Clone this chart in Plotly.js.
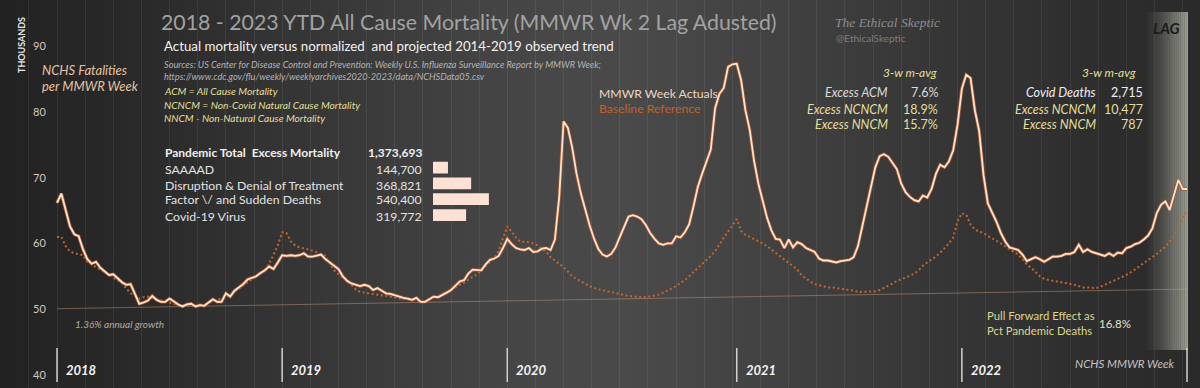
<!DOCTYPE html>
<html><head><meta charset="utf-8">
<script src="https://cdn.plot.ly/plotly-3.0.1.min.js"></script>
<style>
html,body{margin:0;padding:0;background:#2a2a2a;overflow:hidden;}
#chart{width:1200px;height:388px;background:linear-gradient(to right,#222222 0%,#2a2a2a 12%,#383838 28%,#454545 42%,#4a4a4a 52%,#424242 64%,#363636 78%,#2d2d2d 92%,#2a2a2a 100%);}
</style></head><body><div id="chart"></div><script>
// ---------- DATA (thousands of deaths per MMWR week, 2018 wk1 .. 2023 wk1) ----------
const actual = [
66.1,67.5,65.0,62.5,61.3,61.0,59.0,57.5,56.8,57.1,
56.2,55.6,55.1,55.2,54.6,54.0,53.6,53.7,52.2,50.7,
50.9,51.2,51.9,51.3,51.0,51.0,51.5,51.0,50.6,50.3,
50.6,50.7,50.3,50.5,50.4,50.9,51.4,51.0,51.0,52.3,
51.8,52.7,53.2,53.7,54.4,54.7,54.9,55.4,55.8,56.4,
56.0,57.0,58.1,58.0,58.1,58.0,58.1,58.4,57.9,57.9,
58.1,58.2,57.5,57.0,56.4,56.0,54.9,54.2,53.8,53.6,
53.4,53.6,53.4,52.8,53.1,52.7,52.3,52.2,52.0,51.7,
51.6,51.5,51.3,51.6,51.0,51.0,51.4,51.8,51.7,52.0,
52.4,52.8,53.4,54.1,54.3,55.3,55.9,55.8,55.8,56.7,
57.4,57.6,58.0,59.2,60.6,59.8,59.2,59.0,58.9,59.2,
58.6,58.7,59.1,59.2,58.9,60.5,67.0,78.5,77.5,74.5,
70.5,67.5,65.0,62.7,60.7,59.1,58.2,57.9,58.3,59.3,
60.9,62.6,64.0,64.2,64.0,63.6,62.7,61.5,60.6,59.9,
59.7,59.9,59.9,61.0,60.8,61.6,62.8,65.5,68.5,70.5,
72.3,74.2,80.5,82.7,83.6,86.8,87.2,87.3,84.8,80.2,
77.2,72.5,69.0,66.3,63.8,61.9,60.6,60.5,59.2,60.5,
59.3,60.1,59.8,59.2,58.9,58.6,57.6,57.3,57.3,57.1,
57.0,57.2,57.3,57.4,57.8,59.5,62.5,65.5,68.7,71.5,
73.2,73.5,73.1,72.2,71.2,69.0,67.7,67.0,66.5,66.3,
67.2,66.9,68.2,70.5,71.9,71.5,72.4,74.1,78.0,83.5,
85.6,85.1,80.2,77.0,70.3,66.0,64.7,63.2,61.5,60.2,
59.3,59.1,58.9,58.2,57.2,57.5,57.8,57.5,57.1,57.5,
57.9,57.9,58.0,58.3,58.3,58.6,59.7,58.6,59.0,58.6,
58.4,58.2,58.0,58.4,58.0,58.5,58.4,59.2,59.4,59.8,
60.0,60.5,61.1,62.2,64.5,65.8,66.3,65.0,67.5,69.6,
68.2,68.2
];
const baseline = [
60.9,60.9,59.5,58.7,58.4,58.3,58.1,57.1,56.7,56.3,
55.9,55.6,55.1,54.8,54.3,53.8,53.0,52.3,51.9,51.5,
51.7,51.8,51.6,51.4,51.2,51.0,50.8,50.7,50.5,50.5,
50.4,50.4,50.4,50.4,50.6,50.9,51.1,51.3,51.5,51.8,
52.0,52.5,53.0,53.6,54.0,54.4,54.8,55.3,55.8,56.8,
58.2,59.6,61.6,61.5,60.2,59.6,59.3,59.2,59.0,58.8,
58.6,58.3,58.0,57.0,55.8,55.2,54.7,54.1,53.6,52.9,
52.5,52.4,52.3,52.3,52.2,52.1,52.0,51.9,51.7,51.5,
51.5,51.4,51.3,51.2,51.0,51.0,51.3,51.7,51.9,52.2,
52.5,52.9,53.2,53.6,53.9,54.4,54.8,55.2,55.8,56.4,
57.0,57.7,58.8,60.8,62.5,61.7,60.8,60.2,60.2,60.1,
59.9,59.6,59.1,58.6,57.8,57.3,56.8,56.3,55.6,54.9,
54.5,54.1,53.7,53.4,53.1,52.9,52.7,52.6,52.5,52.4,
52.2,52.0,51.9,51.8,51.7,51.7,51.7,51.8,51.9,52.1,
52.4,52.7,53.0,53.4,53.9,54.3,54.9,55.5,56.1,56.7,
57.4,58.0,58.7,59.8,60.8,61.7,62.7,63.6,61.8,61.2,
60.9,60.6,60.2,59.9,59.5,59.0,58.5,58.0,57.5,57.0,
56.5,55.9,55.0,54.5,54.1,53.7,53.5,53.3,53.2,53.2,
53.1,53.1,53.0,52.9,52.7,52.5,52.5,52.5,52.5,52.6,
52.8,53.1,53.4,53.8,54.2,54.4,54.7,55.0,55.3,55.8,
56.5,57.0,57.4,57.9,58.5,59.2,59.9,60.8,63.3,64.5,
64.3,62.8,62.0,61.7,61.5,61.0,60.7,60.3,59.9,59.4,
59.0,58.6,58.2,57.5,56.7,56.2,55.5,54.9,54.5,54.3,
54.2,54.1,54.0,53.9,53.8,53.6,53.4,53.2,53.2,53.1,
53.1,53.3,53.6,53.8,54.1,54.4,54.8,55.1,55.5,55.9,
56.4,56.9,57.3,57.8,58.3,58.8,59.4,60.2,61.0,62.3,
63.8,65.0
];
const trendWeeks = [0, 261];
const trendValues = [49.95, 52.95];
const yearLabels = ['2018','2019','2020','2021','2022'];
const yearStartWeek = [0, 52, 104, 157, 209, 261];
const yTicks = [40, 50, 60, 70, 80, 90];
const barLabels = ['SAAAAD','Disruption & Denial of Treatment','Factor \\/ and Sudden Deaths','Covid-19 Virus'];
const barValues = [144700, 368821, 540400, 319772];
const pandemicTotal = 1373693;
const block1Labels = ['Excess ACM','Excess NCNCM','Excess NNCM'];
const block1Values = ['7.6%','18.9%','15.7%'];
const block2Labels = ['Covid Deaths','Excess NCNCM','Excess NNCM'];
const block2Values = [2715, 10477, 787];
const pullForward = '16.8%';

// ---------- HELPERS ----------
const W = 1200, H = 388;
const px = x => x / W;
const py = y => 1 - y / H;
const weeks = actual.map((_, i) => i);
const fmt = v => v.toLocaleString('en-US');
const YEL = '#e3df98', WHT = '#e4e4e4';
function T(text, x, y, o = {}) {
  return Object.assign({
    text: text, x: px(x), y: py(y), xref: 'paper', yref: 'paper', showarrow: false,
    xanchor: o.anchor || 'left', yanchor: 'middle',
    font: { family: o.family || 'Lato, sans-serif', size: o.size || 12, color: o.color || WHT }
  }, o.extra || {});
}

// ---------- TRACES ----------
const traces = [
  { x: trendWeeks, y: trendValues, type: 'scatter', mode: 'lines', hoverinfo: 'skip',
    line: { color: 'rgba(215,160,125,0.45)', width: 1 } },
  { x: weeks, y: baseline, type: 'scatter', mode: 'lines', hoverinfo: 'skip',
    line: { color: '#c4652c', width: 2, dash: '2px,2.6px' } },
  { x: weeks, y: actual, type: 'scatter', mode: 'lines', hoverinfo: 'skip',
    line: { color: '#9c5630', width: 3.4 } },
  { x: weeks, y: actual, type: 'scatter', mode: 'lines', hoverinfo: 'skip',
    line: { color: '#fce2cf', width: 1.8 } },
  { x: barValues, y: barLabels, type: 'bar', orientation: 'h', xaxis: 'x2', yaxis: 'y2',
    marker: { color: '#fde1d4' }, width: 0.74, hoverinfo: 'skip' }
];

// ---------- SHAPES ----------
const shapes = [];
const bandL = 1143, bandR = 1188, nS = 24;
for (let k = 0; k < nS; k++) {
  const a = Math.pow((k + 0.5) / nS, 1.4) * 0.9;
  shapes.push({ type: 'rect', xref: 'paper', yref: 'paper', layer: 'below',
    x0: px(bandL + (bandR - bandL) * k / nS), x1: px(bandL + (bandR - bandL) * (k + 1) / nS),
    y0: py(350), y1: py(12), line: { width: 0 }, fillcolor: 'rgba(170,174,160,' + a.toFixed(3) + ')' });
}
yearStartWeek.forEach(w => shapes.push({ type: 'line', xref: 'x', yref: 'paper', x0: w, x1: w,
  y0: py(382), y1: py(348), line: { color: '#d2d2d2', width: 1.5 } }));

// ---------- ANNOTATIONS ----------
const ann = [];
yTicks.forEach(v => ann.push({ text: String(v), x: px(39), xref: 'paper', y: v, yref: 'y', showarrow: false,
  xanchor: 'center', yanchor: 'middle', font: { family: 'Lato, sans-serif', size: 11, color: '#d4c8bc' } }));
yearLabels.forEach((t, i) => ann.push({ text: '<b><i>' + t + '</i></b>', x: yearStartWeek[i], xref: 'x', xshift: 7,
  y: py(370), yref: 'paper', showarrow: false, xanchor: 'left', yanchor: 'middle',
  font: { family: 'Lato, sans-serif', size: 13, color: '#f4f4f4' } }));

ann.push(T('2018 - 2023 YTD All Cause Mortality (MMWR Wk 2 Lag Adusted)', 159, 22, { size: 21.3, color: '#a2a2a2' }));
ann.push(T('Actual mortality versus normalized  and projected 2014-2019 observed trend', 162, 46, { size: 13.3, color: '#f2f2f2' }));
ann.push(T('<i>Sources: US Center for Disease Control and Prevention: Weekly U.S. Influenza Surveillance Report by MMWR Week;</i>', 162, 65, { size: 9.2, color: '#b4b4b4' }));
ann.push(T('<i>https://www.cdc.gov/flu/weekly/weeklyarchives2020-2023/data/NCHSData05.csv</i>', 162, 77, { size: 9.2, color: '#b4b4b4' }));
ann.push(T('<i>ACM = All Cause Mortality</i>', 162, 91, { size: 10.2, color: YEL }));
ann.push(T('<i>NCNCM = Non-Covid Natural Cause Mortality</i>', 162, 105, { size: 10.2, color: YEL }));
ann.push(T('<i>NNCM - Non-Natural Cause Mortality</i>', 162, 118, { size: 10.2, color: YEL }));
ann.push(T('<i>NCHS Fatalities</i>', 40, 70, { size: 13, color: '#e6c2a4' }));
ann.push(T('<i>per MMWR Week</i>', 40, 86, { size: 13, color: '#e6c2a4' }));
ann.push(T('<b>THOUSANDS</b>', 21, 45, { anchor: 'center', size: 9, color: '#e8e8e8', extra: { textangle: -90 } }));
ann.push(T('<i>The Ethical Skeptic</i>', 833, 22, { size: 13.5, color: '#8c8c8c', family: 'Liberation Serif, serif' }));
ann.push(T('@EthicalSkeptic', 834, 38, { size: 10, color: '#7c7c7c' }));
ann.push(T('MMWR Week Actuals', 597, 93, { size: 12.2, color: '#eed5c2' }));
ann.push(T('Baseline Reference', 597, 108, { size: 12.2, color: '#c2612a' }));

ann.push(T('<i>3-w m-avg</i>', 939, 72, { anchor: 'right', size: 12, color: YEL }));
const b1y = [92, 109, 125], b1c = ['#dadada', YEL, YEL];
block1Labels.forEach((t, i) => {
  ann.push(T('<i>' + t + '</i>', 890, b1y[i], { anchor: 'right', size: 12.5, color: b1c[i] }));
  ann.push(T(block1Values[i], 940, b1y[i], { anchor: 'right', size: 12.5, color: b1c[i] }));
});
ann.push(T('<i>3-w m-avg</i>', 1138, 72, { anchor: 'right', size: 12, color: YEL }));
const b2c = ['#eeeeee', YEL, YEL];
block2Labels.forEach((t, i) => {
  ann.push(T('<i>' + t + '</i>', 1098, b1y[i], { anchor: 'right', size: 12.5, color: b2c[i] }));
  ann.push(T(fmt(block2Values[i]), 1145, b1y[i], { anchor: 'right', size: 12.5, color: b2c[i] }));
});
ann.push(T('<b>Pandemic Total  Excess Mortality</b>', 163, 153, { size: 12, color: '#f0f0f0' }));
ann.push(T('<b>' + fmt(pandemicTotal) + '</b>', 424, 153, { anchor: 'right', size: 12, color: '#f0f0f0' }));
const rowY = [169, 185, 200, 216];
barLabels.forEach((t, i) => {
  ann.push(T(t.replace('&', '&amp;'), 163, rowY[i], { size: 12.3, color: '#e2e2e2' }));
  ann.push(T(fmt(barValues[i]), 424, rowY[i], { anchor: 'right', size: 12.3, color: '#e2e2e2' }));
});
ann.push(T('<i>1.36% annual growth</i>', 73, 324, { size: 10, color: '#b4aa9f' }));
ann.push(T('Pull Forward Effect as', 985, 315, { size: 11.3, color: '#dcd88e' }));
ann.push(T('Pct Pandemic Deaths', 985, 330, { size: 11.3, color: '#dcd88e' }));
ann.push(T(pullForward, 1097, 323, { size: 11.5, color: '#e2e2c8' }));
ann.push(T('<i>NCHS MMWR Week</i>', 1176, 363, { anchor: 'right', size: 11.5, color: '#c4c4c4' }));
ann.push(T('<b><i>LAG</i></b>', 1166, 28, { anchor: 'center', size: 15, color: '#1c1c1c' }));

const layout = {
  width: W, height: H, margin: { l: 0, r: 0, t: 0, b: 0, pad: 0 },
  paper_bgcolor: 'rgba(0,0,0,0)', plot_bgcolor: 'rgba(0,0,0,0)',
  showlegend: false, font: { family: 'Lato, sans-serif' },
  xaxis: { range: [-13.17, 264.0], showgrid: true, gridcolor: 'rgba(255,255,255,0.07)', gridwidth: 1,
    tick0: 0, dtick: 6.5, showticklabels: false, zeroline: false, showline: false, ticks: '', fixedrange: true },
  yaxis: { range: [37.87, 97.0], showgrid: false, showticklabels: false, zeroline: false, showline: false, ticks: '', fixedrange: true },
  xaxis2: { domain: [px(433), px(493)], range: [0, 580000], visible: false, anchor: 'y2', fixedrange: true },
  yaxis2: { domain: [py(223), py(159.6)], type: 'category', range: [3.5, -0.5], visible: false, anchor: 'x2', fixedrange: true },
  shapes: shapes, annotations: ann
};
Plotly.newPlot('chart', traces, layout, { staticPlot: true, displayModeBar: false });
</script></body></html>
